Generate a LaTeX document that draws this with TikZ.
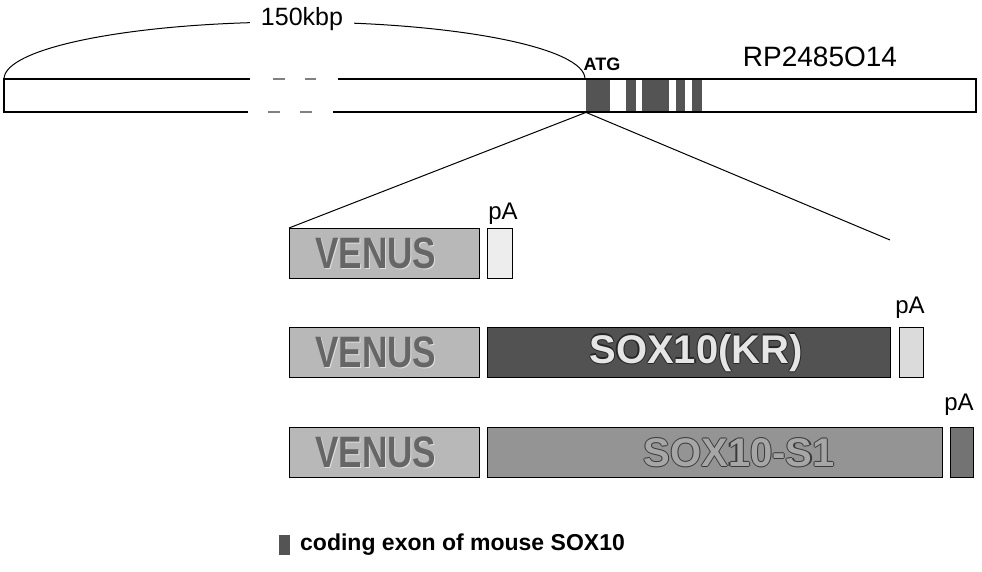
\documentclass[tikz,border=0pt]{standalone}
\usepackage{fontspec}
\usepackage{graphicx}
\setmainfont{Liberation Sans}
\newcommand\fsz[1]{\fontsize{#1}{#1}\selectfont}
\definecolor{exon}{gray}{0.33}
\definecolor{venusfill}{gray}{0.72}
\definecolor{krfill}{gray}{0.32}
\definecolor{sonefill}{gray}{0.58}
\definecolor{paone}{gray}{0.93}
\definecolor{patwo}{gray}{0.86}
\definecolor{pathree}{gray}{0.45}
\tikzset{
  barline/.style={line width=1.2pt, black},
  exonbox/.style={fill=exon, draw=none, inner sep=0pt, minimum height=33pt, anchor=north west},
  gbox/.style={draw=black, line width=1.4pt, inner sep=0pt, minimum height=50pt, anchor=north west},
  lbl/.style={inner sep=1pt, font=\fsz{24}},
  bigtxt/.style={inner sep=0pt, font=\fsz{40}\bfseries},
  conn/.style={line width=1pt, black}
}
\begin{document}
\begin{tikzpicture}[x=1pt,y=-1pt]
\useasboundingbox (0,0) rectangle (982,571);

% ---- top BAC bar ----
\coordinate (bNW) at (4,79);
\coordinate (bSW) at (4,112);
\coordinate (bNE) at (976,79);
\coordinate (bSE) at (976,112);
\node[exonbox, minimum width=24pt] (e1) at (586,79) {};
\node[exonbox, minimum width=10pt] (e2) at (626,79) {};
\node[exonbox, minimum width=27pt] (e3) at (642,79) {};
\node[exonbox, minimum width=9pt]  (e4) at (676,79) {};
\node[exonbox, minimum width=10pt] (e5) at (692,79) {};
\draw[barline] (250,79) -- (bNW) -- (bSW) -- (248,112);
\draw[barline] (338,79) -- (bNE) -- (bSE) -- (333,112);
\draw[barline, gray] (273,79) -- (285,79) (305,79) -- (316,79)
                     (268,112) -- (280,112) (300,112) -- (312,112);

% ---- span arc ----
\draw[conn] (bNW) arc[start angle=180, end angle=0, x radius=290.5pt, y radius=57pt];
\node[fill=white, inner xsep=11pt, inner ysep=3pt, font=\fsz{25}] (kbp) at (302,19) {150kbp};

\node[font=\fsz{18}\bfseries, inner sep=0pt] (atg) at (602,64) {ATG};
\node[font=\fsz{28}, inner sep=0pt] (bac) at (820,57) {RP2485O14};

% ---- constructs ----
\node[gbox, fill=venusfill, minimum width=190pt] (v1) at (289,228) {};
\node[gbox, fill=paone, minimum width=25pt] (p1) at (487,228) {};
\node[lbl] (pa1) at (503,214) {pA};

\node[gbox, fill=venusfill, minimum width=190pt] (v2) at (289,327) {};
\node[gbox, fill=krfill, minimum width=403pt] (kr) at (487,327) {};
\node[gbox, fill=patwo, minimum width=24pt] (p2) at (899,327) {};
\node[lbl] (pa2) at (910,308) {pA};

\node[gbox, fill=venusfill, minimum width=190pt] (v3) at (289,427) {};
\node[gbox, fill=sonefill, minimum width=455pt] (s1) at (487,427) {};
\node[gbox, fill=pathree, minimum width=23pt] (p3) at (950,427) {};
\node[lbl] (pa3) at (959,405) {pA};

% box texts
\foreach \n in {v1,v2,v3}{
  \node[bigtxt, text=white!75!gray] at ([xshift=-8pt,yshift=-1pt]\n.center) {\scalebox{0.88}[1.1]{VENUS}};
  \node[bigtxt, text=gray!80!black] (\n t) at ([xshift=-9pt]\n.center) {\scalebox{0.88}[1.1]{VENUS}};
}
\foreach \dx/\dy in {-1.2/0,1.2/0,0/-1.2,0/1.2}{
  \node[bigtxt, text=black!85] at ([xshift=7pt+\dx pt,yshift=\dy pt]kr.center) {SOX10(KR)};
  \node[bigtxt, text=gray!45!black] at ([xshift=24pt+\dx pt,yshift=\dy pt]s1.center) {SOX10-S1};
}
\node[bigtxt, text=gray!20] (krt) at ([xshift=7pt]kr.center) {SOX10(KR)};
\node[bigtxt, text=gray!70] (s1t) at ([xshift=24pt]s1.center) {SOX10-S1};

% ---- connectors from ATG ----
\coordinate (fanR) at (890,240);
\draw[conn] (e1.south west) -- (v1.north west);
\draw[conn] (e1.south west) -- (fanR);

% ---- legend ----
\node[fill=exon, inner sep=0pt, minimum width=11pt, minimum height=20pt, anchor=north west] (leg) at (279,535) {};
\node[font=\fsz{23}\bfseries, inner sep=0pt, anchor=west] (legt) at (300,545) {coding exon of mouse SOX10};
\end{tikzpicture}
\end{document}
